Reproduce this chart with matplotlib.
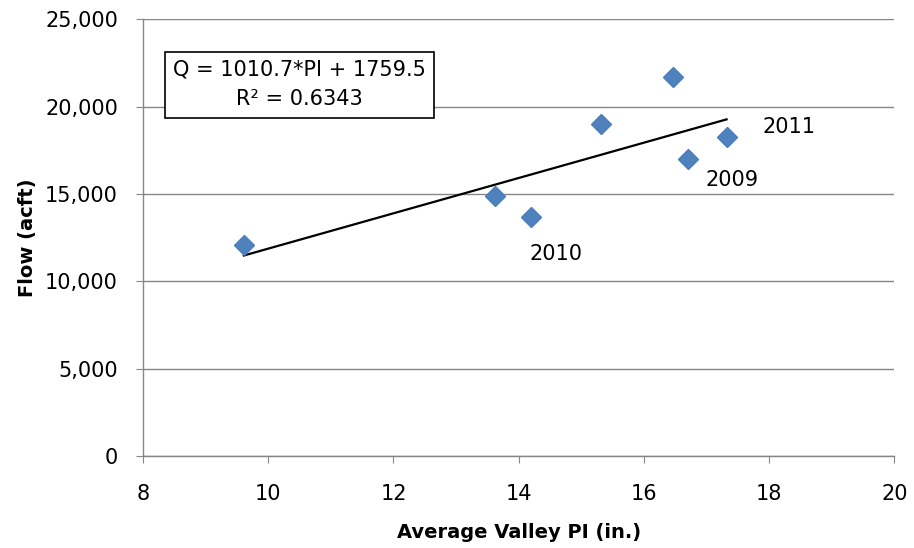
import matplotlib.pyplot as plt
import numpy as np
from matplotlib.ticker import FuncFormatter

# data
pi_in = [9.61, 13.62, 14.19, 15.31, 16.47, 16.70, 17.32]
flow_acft = [12100, 14900, 13650, 19000, 21700, 17000, 18250]

slope = 1010.7
intercept = 1759.5
r2 = 0.6343

year_labels = ["2011", "2009", "2010"]
year_x = [17.89, 16.99, 14.17]
year_y = [18820, 15790, 11560]

plt.rcParams['font.family'] = ['DejaVu Sans']
grey = '#868686'

fig = plt.figure(figsize=(9.14, 5.48), dpi=100)
ax = fig.add_axes([0.1565, 0.168, 0.822, 0.797])

ax.plot(pi_in, flow_acft, linestyle='none', marker='D', markersize=10,
        color='#4F81BD', markeredgecolor='#4A7EBB', zorder=3)

# linear trend line
xs = np.array([min(pi_in), max(pi_in)])
ax.plot(xs, slope * xs + intercept, color='black', linewidth=1.6, zorder=2)

for lab, x, y in zip(year_labels, year_x, year_y):
    ax.text(x, y, lab, fontsize=15, va='center', ha='left')

ax.text(10.5, 21250, "Q = %.1f*PI + %.1f\nR² = %.4f" % (slope, intercept, r2),
        fontsize=15, ha='center', va='center', linespacing=1.6,
        bbox=dict(boxstyle='square,pad=0.4', facecolor='white',
                  edgecolor='black', linewidth=1.2), zorder=4)

ax.set_xlim(8, 20)
ax.set_ylim(0, 25000)
ax.set_xticks(range(8, 21, 2))
ax.set_yticks(range(0, 25001, 5000))
ax.yaxis.set_major_formatter(FuncFormatter(lambda v, p: f"{int(v):,}"))
ax.grid(axis='y', color=grey, linewidth=1)
ax.set_axisbelow(True)

for side in ['top', 'right']:
    ax.spines[side].set_visible(False)
for side in ['left', 'bottom']:
    ax.spines[side].set_color(grey)
    ax.spines[side].set_linewidth(1)
ax.tick_params(direction='out', length=5, color=grey, labelsize=15)
ax.tick_params(axis='x', pad=15)
ax.tick_params(axis='y', pad=13)

ax.set_xlabel("Average Valley PI (in.)", fontsize=14, fontweight='bold', labelpad=14)
ax.set_ylabel("Flow (acft)", fontsize=14, fontweight='bold', labelpad=6)

fig.savefig("out.png", dpi=100)
